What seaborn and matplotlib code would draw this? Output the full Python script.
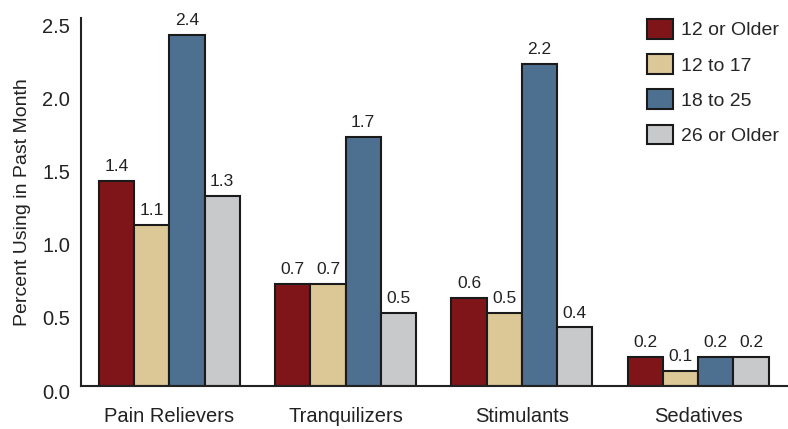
import matplotlib
matplotlib.use("Agg")
import matplotlib.pyplot as plt
import matplotlib.transforms as mtransforms
import seaborn as sns
import pandas as pd

categories = ["Pain Relievers", "Tranquilizers", "Stimulants", "Sedatives"]
groups = ["12 or Older", "12 to 17", "18 to 25", "26 or Older"]
v_12_older = [1.4, 0.7, 0.6, 0.2]
v_12_17 = [1.1, 0.7, 0.5, 0.1]
v_18_25 = [2.4, 1.7, 2.2, 0.2]
v_26_older = [1.3, 0.5, 0.4, 0.2]
colors = ["#7f1519", "#dcc896", "#4e7090", "#c8c9cb"]
ytick_vals = [0, 0.5, 1.0, 1.5, 2.0, 2.5]
ytick_labels = ["0.0", "0.5", "1.0", "1.5", "2.0", "2.5"]

rows = []
for g, vals in zip(groups, [v_12_older, v_12_17, v_18_25, v_26_older]):
    for c, v in zip(categories, vals):
        rows.append({"Drug": c, "Age": g, "Value": v})
df = pd.DataFrame(rows)

sns.set_style("white")
plt.rcParams["font.family"] = ["Liberation Sans", "DejaVu Sans"]

fig = plt.figure(figsize=(7.88, 4.29), dpi=100)
ax = fig.add_axes([0.103, 0.1002, 0.897, 0.8578])
sns.barplot(data=df, x="Drug", y="Value", hue="Age", order=categories,
            hue_order=groups, palette=colors, width=0.8, edgecolor="#1a1a1a",
            linewidth=1.5, ax=ax, saturation=1)
for cont in ax.containers:
    ax.bar_label(cont, fmt="%.1f", padding=5, fontsize=12.5, color="#222222")
ax.set_ylim(0, 2.515)
ax.set_xlim(-0.5, 3.51)
ax.set_yticks(ytick_vals)
ax.set_yticklabels(ytick_labels)
ax.tick_params(axis="both", length=0, labelsize=14.5, colors="#222222")
ax.tick_params(axis="x", pad=15)
ax.tick_params(axis="y", pad=8)
off = mtransforms.ScaledTranslation(0, -5 / 100, fig.dpi_scale_trans)
for lbl in ax.get_yticklabels():
    lbl.set_transform(lbl.get_transform() + off)
ax.set_xlabel("")
ax.set_ylabel("Percent Using in Past Month", fontsize=14, color="#222222", labelpad=8)
sns.despine(ax=ax, top=True, right=True)
for s in ["left", "bottom"]:
    ax.spines[s].set_color("#222222")
    ax.spines[s].set_linewidth(1.5)
leg = ax.legend(loc="upper right", bbox_to_anchor=(1.012, 1.045), frameon=False,
                fontsize=14, handlelength=1.34, handleheight=1.18, labelspacing=0.76,
                handletextpad=0.4)
for h in leg.legend_handles:
    h.set_edgecolor("#1a1a1a")
    h.set_linewidth(1.5)
fig.savefig("out.png", dpi=100)
